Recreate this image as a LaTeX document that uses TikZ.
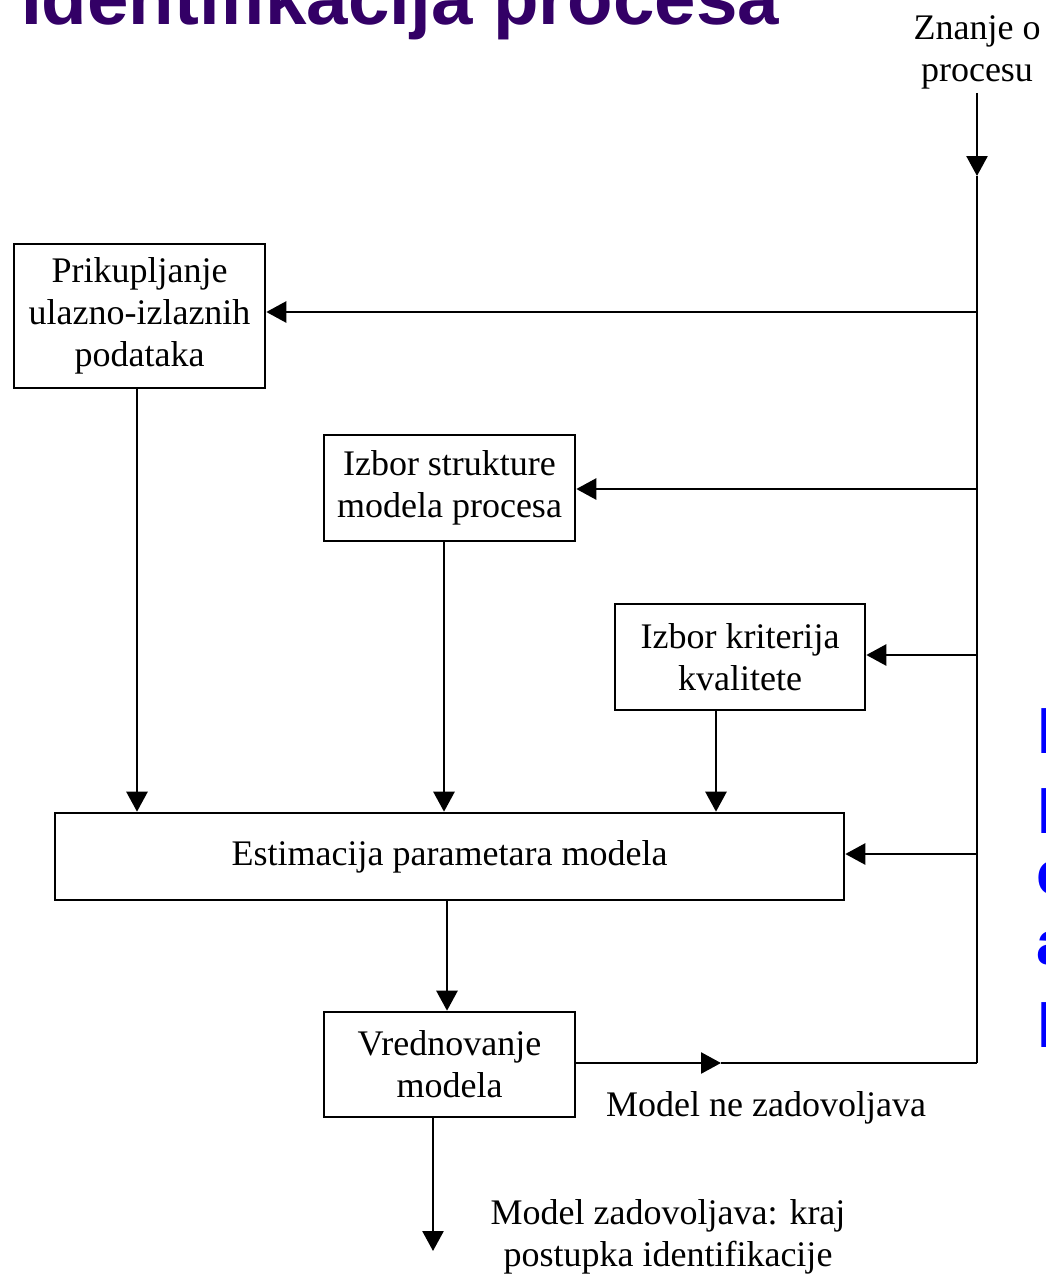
\documentclass[tikz,border=0pt]{standalone}
\usepackage{fontspec}
\setmainfont{Liberation Serif}
\newfontfamily\titlefont{Liberation Sans}
\usetikzlibrary{arrows.meta}
\definecolor{titlepurple}{HTML}{330066}
\definecolor{slideblue}{HTML}{0000FF}
\begin{document}
\begin{tikzpicture}[x=1pt,y=-1pt,
  box/.style={draw,line width=2.6pt,inner sep=0pt,align=center,font=\fontsize{36}{42}\selectfont},
  arr/.style={line width=2.6pt,-{Triangle[length=20pt,width=21pt]}},
  ln/.style={line width=2.6pt},
  lbl/.style={align=center,inner sep=0pt,font=\fontsize{36}{42}\selectfont},
  frag/.style={anchor=base west,inner sep=0pt,text=slideblue,font=\titlefont\bfseries\fontsize{62}{66}\selectfont}]
\useasboundingbox (0,0) rectangle (1046,1279);
\fill[white] (0,0) rectangle (1046,1279);

% title (cut at top)
\node[anchor=base west,inner sep=0pt,text=titlepurple,font=\titlefont\bfseries\fontsize{74.5}{80}\selectfont] (title) at (21,25) {Identifikacija procesa};

% blue fragments at right edge
\node[frag] (f1) at (1037,753) {l};
\node[frag] (f2) at (1037,833) {l};
\node[frag] (f3) at (1036,894) {c};
\node[frag] (f4) at (1036,964) {a};
\node[frag] (f5) at (1037,1047) {l};

% boxes
\node[box,minimum width=251pt,minimum height=144pt] (b1) at (139.5,316) {Prikupljanje\\ulazno-izlaznih\\podataka};
\node[box,minimum width=251pt,minimum height=106pt] (b2) at (449.5,488) {Izbor strukture\\modela procesa};
\node[box,minimum width=250pt,minimum height=106pt] (b3) at (740,657) {Izbor kriterija\\kvalitete};
\node[box,minimum width=789pt,minimum height=87pt] (b4) at (449.5,856.5) {Estimacija parametara modela};
\node[box,minimum width=251pt,minimum height=105pt] (b5) at (449.5,1064.5) {Vrednovanje\\modela};

% labels
\node[lbl] (zn) at (977,52) {Znanje o\\procesu};
\node[lbl,anchor=base west] (mne) at (606,1116) {Model ne zadovoljava};
\node[lbl] (mz) at (668,1237) {Model zadovoljava: kraj\\postupka identifikacije};

% bus coordinates
\coordinate (k) at (977,176);
\coordinate (c) at (977,1063);
\coordinate (t1) at (977,312);
\coordinate (t2) at (977,489);
\coordinate (t3) at (977,655);
\coordinate (t4) at (977,854);
\coordinate (m) at (721,1063);
\coordinate (x1) at (137,0);
\coordinate (x2) at (444,0);
\coordinate (x3) at (716,0);
\coordinate (x4) at (447,0);
\coordinate (x5) at (433,0);
\coordinate (endp) at (433,1251);

% knowledge bus
\draw[arr] (zn.south) ++(0,4) -- (k);
\draw[ln] (k) -- (c);
\draw[arr] (t1) -- (t1 -| b1.east);
\draw[arr] (t2) -- (t2 -| b2.east);
\draw[arr] (t3) -- (t3 -| b3.east);
\draw[arr] (t4) -- (t4 -| b4.east);

% down arrows
\draw[arr] (b1.south -| x1) -- (b4.north -| x1);
\draw[arr] (b2.south -| x2) -- (b4.north -| x2);
\draw[arr] (b3.south -| x3) -- (b4.north -| x3);
\draw[arr] (b4.south -| x4) -- (b5.north -| x4);
\draw[arr] (b5.south -| x5) -- (endp);

% feedback
\draw[arr] (b5.east |- c) -- (m);
\draw[ln] (m) -- (c);
\end{tikzpicture}
\end{document}
